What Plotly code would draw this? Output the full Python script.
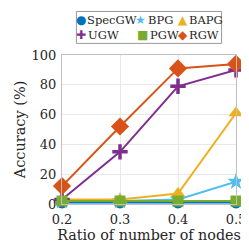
import plotly.graph_objects as go

x_vals = [0.2, 0.3, 0.4, 0.5]
specgw = [1, 1, 1, 1]
bpg = [2, 2, 3, 15]
bapg = [3, 3, 7, 61]
ugw = [3, 35, 79, 90]
pgw = [2, 2, 2, 2]
rgw = [12, 52, 91, 94]
names = ["SpecGW", "BPG", "BAPG", "UGW", "PGW", "RGW"]
x_ticks = ["0.2", "0.3", "0.4", "0.5"]

colors = ["#0072BD", "#4DBEEE", "#EDB120", "#7E2F8E", "#77AC30", "#D95319"]
symbols = ["circle", "star", "triangle-up", "cross-thin", "square", "diamond"]
sizes = [12, 13, 13, 11, 11, 14]
glyphs = ["●", "★", "▲", "✚", "■", "◆"]
data = [specgw, bpg, bapg, ugw, pgw, rgw]

W, H = 249, 242
L, R, T, B = 45, 11, 47, 41
PW, PH = W - L - R, H - T - B

def px(x):
    return (x - L) / PW

def py(y):
    return (H - B - y) / PH

fig = go.Figure()
for name, ys, color, sym, size in zip(names, data, colors, symbols, sizes):
    marker = dict(symbol=sym, size=size, color=color)
    if sym == "cross-thin":
        marker["line"] = dict(color=color, width=3.5)
    fig.add_trace(go.Scatter(x=x_vals, y=ys, name=name, mode="lines+markers",
                             line=dict(color=color, width=2), marker=marker,
                             cliponaxis=False))

font = "DejaVu Serif"
# legend drawn as text entries inside a box
glyph_pos = [(66.5, 10.5), (132, 10.5), (179, 10.5), (66.5, 26.5), (134, 26.5), (179, 26.5)]
text_pos = [(72, 11), (139, 11), (185, 11), (73, 26), (141, 26), (185, 26)]
annotations = []
for (gx, gy), (tx, ty), name, color, g in zip(glyph_pos, text_pos, names, colors, glyphs):
    annotations.append(dict(
        x=px(gx), y=py(gy), xref="paper", yref="paper", xanchor="center", yanchor="middle",
        text=g, showarrow=False, borderpad=0,
        font=dict(family="DejaVu Sans", size=12, color=color)))
    annotations.append(dict(
        x=px(tx), y=py(ty), xref="paper", yref="paper", xanchor="left", yanchor="middle",
        text=name, showarrow=False, borderpad=0,
        font=dict(family=font, size=11.5, color="#262626")))

fig.update_layout(
    width=W, height=H,
    margin=dict(l=L, r=R, t=T, b=B),
    paper_bgcolor="white", plot_bgcolor="white",
    font=dict(family=font, size=13, color="#262626"),
    showlegend=False,
    annotations=annotations,
    shapes=[dict(type="rect", xref="paper", yref="paper",
                 x0=px(61), x1=px(222), y0=py(35), y1=py(2),
                 line=dict(color="#999999", width=1), fillcolor="white", layer="above")],
    xaxis=dict(range=[0.2, 0.5], tickvals=x_vals, ticktext=x_ticks,
               showgrid=True, gridcolor="#e8e8e8", zeroline=False,
               showline=True, linecolor="#c0c0c0", mirror=True, ticks="",
               tickfont=dict(size=13), ticklabelstandoff=3,
               title=dict(text="Ratio of number of nodes", standoff=2, font=dict(size=14.3))),
    yaxis=dict(range=[0, 100], tickvals=[0, 20, 40, 60, 80, 100],
               showgrid=True, gridcolor="#e8e8e8", zeroline=False,
               showline=True, linecolor="#c0c0c0", mirror=True, ticks="",
               tickfont=dict(size=13), ticklabelstandoff=2,
               title=dict(text="Accuracy (%)", standoff=2, font=dict(size=14.5))),
)
fig.write_html("out.html")
